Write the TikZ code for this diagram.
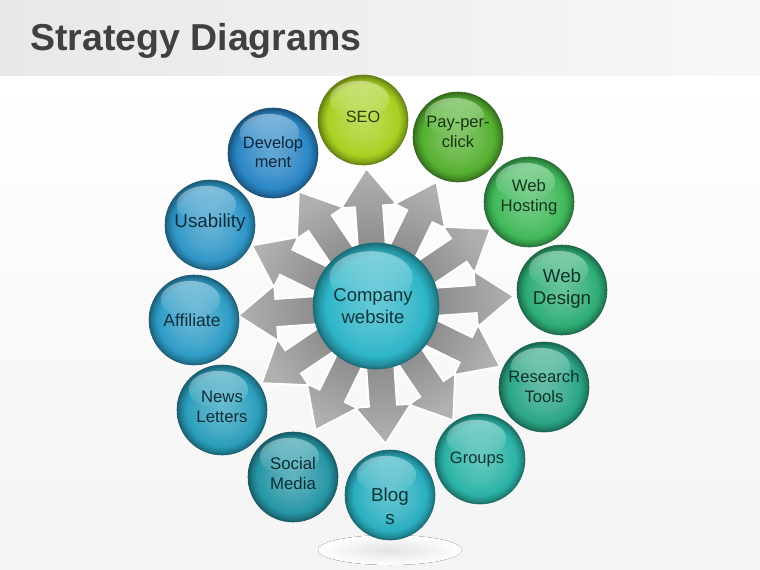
\documentclass[tikz,border=0pt]{standalone}
\usepackage{fontspec}
\setmainfont{Liberation Sans}
\usetikzlibrary{calc,fadings}
\definecolor{cSEO}{HTML}{A8D020}
\definecolor{cPPC}{HTML}{55B030}
\definecolor{cHost}{HTML}{40B95A}
\definecolor{cDesign}{HTML}{2EAD76}
\definecolor{cResearch}{HTML}{2AA585}
\definecolor{cGroups}{HTML}{2BB3A6}
\definecolor{cBlogs}{HTML}{2AAFC0}
\definecolor{cSocial}{HTML}{2696A6}
\definecolor{cNews}{HTML}{2A9EBC}
\definecolor{cAff}{HTML}{2E9CC6}
\definecolor{cUsab}{HTML}{3097C8}
\definecolor{cDev}{HTML}{2A86C6}
\definecolor{cCenter}{HTML}{2DB5C8}
\definecolor{titlegray}{HTML}{404040}
\definecolor{arrlight}{HTML}{B0B0B0}
\definecolor{arrdark}{HTML}{808080}
\colorlet{ballbase}{blue}
\pgfdeclareradialshading[ballbase]{ballsh}{\pgfpoint{0bp}{0bp}}{%
 color(0bp)=(ballbase!72!white);
 color(12bp)=(ballbase!86!white);
 color(20bp)=(ballbase);
 color(23bp)=(ballbase!80!black);
 color(25bp)=(ballbase!60!black);
 color(50bp)=(ballbase!60!black)}
\tikzset{
  ballsty/.style={circle, inner sep=0pt, shading=ballsh, draw=ballbase!60!black, line width=0.6pt},
  arrowsty/.style={draw=white, line width=1.8pt, line join=miter, top color=arrlight, bottom color=arrdark},
  labsty/.style={align=center, inner sep=0pt}
}
\newcommand{\sball}[8]{%
  \colorlet{ballbase}{#5}%
  \node[ballsty, minimum size=#4*2pt] (#1) at (#2,#3) {};
  \begin{scope}[shift={(#1.center)}]
    \fill[white, opacity=0.42, path fading=south] (-0.08*#4,-0.45*#4) ellipse ({0.66*#4} and {0.42*#4});
  \end{scope}
  \node[labsty, font=#6, text=#5!30!black] (#1-t) at ([shift={(#7)}]#1.center) {#8};
}
\begin{document}
\begin{tikzpicture}[x=1pt,y=-1pt]
\useasboundingbox (0,0) rectangle (760,570);
% background
\fill[top color=white, bottom color=gray!9] (0,75) rectangle (760,570);
\fill[left color=gray!18, right color=gray!6] (0,0) rectangle (760,75);
\node[anchor=base west, inner sep=0pt, text=titlegray, font=\fontsize{37.5}{40}\selectfont\bfseries] (title) at (30,50) {Strategy Diagrams};
% shadow under Blogs
\fill[inner color=gray!22, outer color=white] (390,550) ellipse (72 and 15);
% arrows
\coordinate (cw) at (376,306);
\foreach \a in {-94,-64,-34,-4,26,56,86,116,146,176,206,236} {
  \filldraw[arrowsty, shading angle={-(\a)-90}]
   ($(cw)+(\a:30)+(\a+90:14)$) -- ($(cw)+(\a:100)+(\a+90:14)$) -- ($(cw)+(\a:100)+(\a+90:28)$) -- ($(cw)+(\a:138)$) -- ($(cw)+(\a:100)+(\a-90:28)$) -- ($(cw)+(\a:100)+(\a-90:14)$) -- ($(cw)+(\a:30)+(\a-90:14)$) -- cycle;
}
% balls
\sball{seo}{363}{120}{45}{cSEO}{\fontsize{16.3}{19.5}\selectfont}{0,-3}{SEO}
\sball{ppc}{458}{137}{45}{cPPC}{\fontsize{16.5}{20}\selectfont}{0,-5}{Pay-per-\\click}
\sball{host}{529}{202}{45}{cHost}{\fontsize{16.7}{20}\selectfont}{0,-5}{Web\\Hosting}
\sball{design}{562}{290}{45}{cDesign}{\fontsize{18.7}{22}\selectfont}{0,-1}{Web\\Design}
\sball{research}{544}{387}{45}{cResearch}{\fontsize{16.6}{20}\selectfont}{0,0}{Research\\Tools}
\sball{groups}{480}{459}{45}{cGroups}{\fontsize{16.5}{20}\selectfont}{-3,0}{Groups}
\sball{blogs}{390}{495}{45}{cBlogs}{\fontsize{18.8}{23}\selectfont}{0,11}{Blog\\s}
\sball{social}{293}{477}{45}{cSocial}{\fontsize{16.8}{20}\selectfont}{0,-4}{Social\\Media}
\sball{news}{222}{410}{45}{cNews}{\fontsize{16.7}{20}\selectfont}{0,-3}{News\\Letters}
\sball{aff}{194}{320}{45}{cAff}{\fontsize{17.5}{21}\selectfont}{-2,0}{Affiliate}
\sball{usab}{210}{225}{45}{cUsab}{\fontsize{18.8}{22}\selectfont}{0,-2}{Usability}
\sball{dev}{273}{153}{45}{cDev}{\fontsize{16.4}{19.5}\selectfont}{0,-1}{Develop\\ment}
\sball{company}{376}{306}{63}{cCenter}{\fontsize{18.5}{22}\selectfont}{-3,0}{Company\\website}
\end{tikzpicture}
\end{document}
